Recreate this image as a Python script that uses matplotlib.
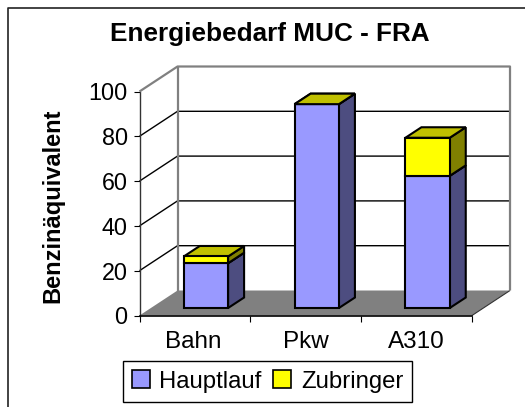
import numpy as np
import matplotlib
matplotlib.use('Agg')
import matplotlib.pyplot as plt
from matplotlib.lines import Line2D
from matplotlib.patches import Patch

plt.rcParams['font.family'] = ['Liberation Sans', 'DejaVu Sans']

# values
categories = ['Bahn', 'Pkw', 'A310']
hauptlauf = [20, 91, 59]
zubringer = [3, 0, 17]
y_ticks = [0, 20, 40, 60, 80, 100]

W, H = 525, 407
fig = plt.figure(figsize=(W / 100, H / 100), dpi=100)
ax = fig.add_axes([139.5 / W, 1 - 315.5 / H, 332.5 / W, 224 / H])
ax.set_xlim(0, 3)
ax.set_ylim(0, 100)

# oblique depth of the fake 3D box, in data units
wall_dx = 38 / 110.8
wall_dy = 25 / 2.24
bar_w = 0.4
bar_dx = 16 / 110.8
bar_dy = 10.5 / 2.24
bar_x0 = 11 / 110.8
bar_y0 = 7.5 / 2.24


def poly(xs, ys, color, z, edge='black', lw=1.5):
    ax.fill(xs, ys, facecolor=color, edgecolor=edge, linewidth=lw, zorder=z,
            clip_on=False, joinstyle='miter')


def line(xs, ys, color='black', lw=1.0, z=2):
    ax.plot(xs, ys, color=color, lw=lw, zorder=z, clip_on=False,
            solid_capstyle='butt')


# floor and walls
poly([0, 3, 3 + wall_dx, wall_dx], [0, 0, wall_dy, wall_dy], '#808080', 1, edge='none', lw=0)
line([3, 3 + wall_dx], [0, wall_dy], color='#333333', lw=0.8)
for v in y_ticks[1:-1]:
    line([0, wall_dx, 3 + wall_dx], [v, v + wall_dy, v + wall_dy])
line([0, wall_dx, 3 + wall_dx, 3 + wall_dx], [100, 100 + wall_dy, 100 + wall_dy, wall_dy],
     color='#808080', lw=1.6, z=3)
line([wall_dx, wall_dx], [wall_dy, 100 + wall_dy], color='#808080', lw=1.6, z=3)


def box(x, y0, y1, front, side, top, z):
    xl = x + bar_x0
    xr = xl + bar_w
    y0 = y0 + bar_y0
    y1 = y1 + bar_y0
    poly([xr, xr + bar_dx, xr + bar_dx, xr], [y0, y0 + bar_dy, y1 + bar_dy, y1], side, z)
    poly([xl, xr, xr + bar_dx, xl + bar_dx], [y1, y1, y1 + bar_dy, y1 + bar_dy], top, z)
    poly([xl, xr, xr, xl], [y0, y0, y1, y1], front, z + 0.1)


for i in range(len(categories)):
    x = i + 0.5 - bar_w / 2
    z = 4 + i
    box(x, 0, hauptlauf[i], '#9999FF', '#4D4D80', '#4D4D80', z)
    if zubringer[i] > 0:
        box(x, hauptlauf[i], hauptlauf[i] + zubringer[i], '#FFFF00', '#808000', '#C0C000', z + 0.2)
    else:
        # top of the zero height yellow segment
        xl = x + bar_x0
        xr = xl + bar_w
        y1 = hauptlauf[i] + bar_y0
        poly([xl, xr, xr + bar_dx, xl + bar_dx], [y1, y1, y1 + bar_dy, y1 + bar_dy], '#C0C000', z + 0.2)

# axes
for s in ['top', 'right']:
    ax.spines[s].set_visible(False)
ax.spines['left'].set_color('#333333')
ax.spines['left'].set_linewidth(1.0)
ax.spines['bottom'].set_linewidth(1.2)
ax.set_yticks(y_ticks)
ax.set_xticks([0, 1, 2, 3])
ax.set_xticklabels([])
ax.set_xticks([0.485, 1.5, 2.5], minor=True)
ax.set_xticklabels(categories, minor=True, fontsize=17.5)
ax.tick_params(axis='x', which='major', length=4.5, width=0.8)
ax.tick_params(axis='x', which='minor', length=0, pad=11)
ax.tick_params(axis='y', length=4.5, width=0.8, labelsize=16.8, pad=4)
ax.patch.set_visible(False)

ax.set_ylabel('Benzinäquivalent', fontsize=17, fontweight='bold', va='center')
ax.yaxis.set_label_coords((53 - 139.5) / 332.5, (315.5 - 206) / 224)

fig.text(270 / W, 1 - 34 / H, 'Energiebedarf MUC - FRA', fontsize=18.8, fontweight='bold',
         ha='center', va='center')

handles = [Patch(facecolor='#9999FF', edgecolor='black', linewidth=1.2, label='Hauptlauf'),
           Patch(facecolor='#FFFF00', edgecolor='black', linewidth=1.2, label='Zubringer')]
fig.legend(handles=handles, ncols=2, fontsize=17.2, loc='center',
           bbox_to_anchor=(267.5 / W, 1 - 381.5 / H), fancybox=False, framealpha=1,
           edgecolor='black', handlelength=0.75, handleheight=0.75, handletextpad=0.4,
           columnspacing=0.5, borderpad=0.38, borderaxespad=0)

# chart frame
fig.add_artist(Line2D([7.5 / W, 7.5 / W, 1], [0, 1 - 7.5 / H, 1 - 7.5 / H], color='#222222', lw=1.2))

fig.savefig('out.png', dpi=100)
